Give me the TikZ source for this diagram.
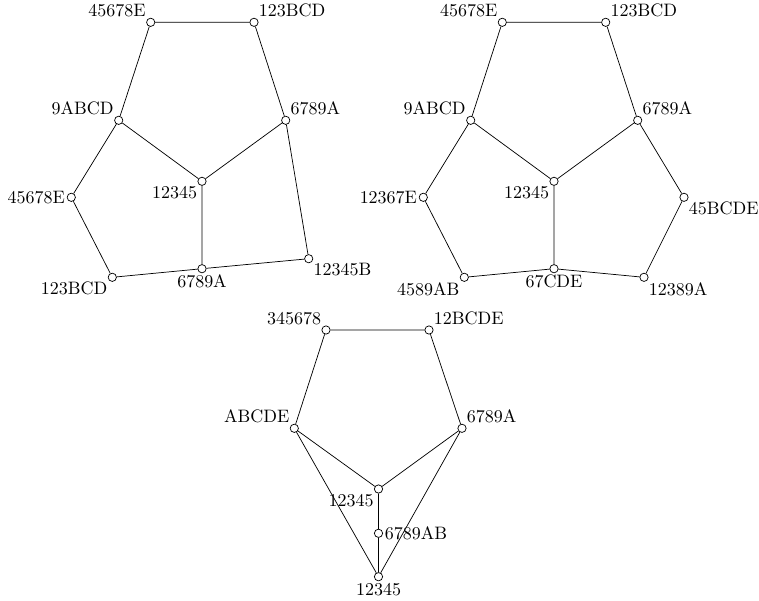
\documentclass[tikz,border=0pt]{standalone}
\begin{document}
\begin{tikzpicture}[x=0.5556pt,y=-0.5556pt,
  v/.style={circle,draw,fill=white,inner sep=0pt,minimum size=4.6pt},
  lbl/.style={inner sep=0.8pt,font=\normalsize},
  every label/.style={lbl},
  label distance=0pt]
\useasboundingbox (0,0) rectangle (759,600);
% Graph 1
\node[v,label={above left:45678E}] (a1) at (150.7,22.3) {};
\node[v,label={above right:123BCD}] (a2) at (254,22.3) {};
\node[v,label={above left:9ABCD}] (a3) at (118.7,120.3) {};
\node[v,label={above right:6789A}] (a4) at (285.7,120.3) {};
\node[v,label={below left:12345}] (a5) at (202,181.3) {};
\node[v,label={left:45678E}] (a6) at (71.3,197.3) {};
\node[v,label={below left:123BCD}] (a7) at (112.3,277.3) {};
\node[v,label={below:6789A}] (a8) at (202,268.7) {};
\node[v,label={below right:12345B}] (a9) at (308.7,258.7) {};
\draw (a1)--(a2) (a1)--(a3) (a2)--(a4) (a3)--(a5) (a4)--(a5)
      (a3)--(a6) (a6)--(a7) (a7)--(a8) (a8)--(a9) (a9)--(a4) (a5)--(a8);
% Graph 2
\node[v,label={above left:45678E}] (b1) at (502.3,22.3) {};
\node[v,label={above right:123BCD}] (b2) at (605.7,22.3) {};
\node[v,label={above left:9ABCD}] (b3) at (470.7,120.3) {};
\node[v,label={above right:6789A}] (b4) at (637.7,120.3) {};
\node[v,label={below left:12345}] (b5) at (554,181.3) {};
\node[v,label={left:12367E}] (b6) at (423.3,197.3) {};
\node[v,label={below right:45BCDE}] (b7) at (684,197.3) {};
\node[v,label={below left:4589AB}] (b8) at (464.3,277.3) {};
\node[v,label={below:67CDE}] (b9) at (554,268.7) {};
\node[v,label={below right:12389A}] (b10) at (644,277.3) {};
\draw (b1)--(b2) (b1)--(b3) (b2)--(b4) (b3)--(b5) (b4)--(b5)
      (b3)--(b6) (b6)--(b8) (b8)--(b9) (b9)--(b10) (b10)--(b7) (b7)--(b4) (b5)--(b9);
% Graph 3
\node[v,label={above left:345678}] (c1) at (326,330) {};
\node[v,label={above right:12BCDE}] (c2) at (429,330) {};
\node[v,label={above left:ABCDE}] (c3) at (294.3,428.3) {};
\node[v,label={above right:6789A}] (c4) at (462,428.3) {};
\node[v,label={below left:12345}] (c5) at (378.5,489) {};
\node[v,label={right:6789AB}] (c6) at (378.5,533.3) {};
\node[v,label={below:12345}] (c7) at (378.5,576.7) {};
\draw (c1)--(c2) (c1)--(c3) (c2)--(c4) (c3)--(c5) (c4)--(c5)
      (c5)--(c6) (c6)--(c7) (c3)--(c7) (c4)--(c7);
\end{tikzpicture}
\end{document}
